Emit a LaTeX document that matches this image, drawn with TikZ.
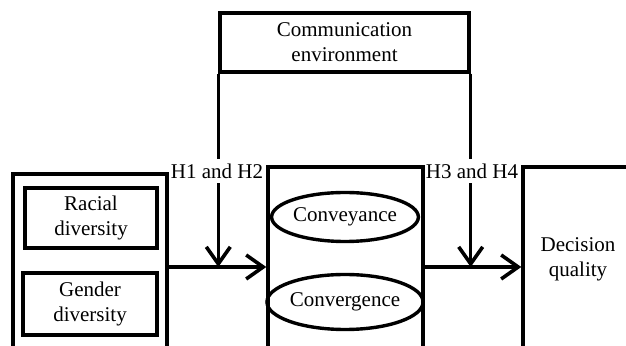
\documentclass[tikz,border=0pt]{standalone}
\usepackage{fontspec}
\setmainfont{Liberation Serif}
\usetikzlibrary{arrows.meta}
\usetikzlibrary{shapes.geometric}

\tikzset{
	box/.style={draw,line width=1.7pt,inner sep=0pt,align=center},
	oval/.style={draw,ellipse,line width=1.7pt,inner sep=0pt},
	txt/.style={align=center,inner sep=0pt},
	hyp/.style={inner xsep=1pt,inner ysep=2.2pt},
	arr/.style={line width=1.7pt,-{Straight Barb[length=8.5pt,width=12pt,line width=1.8pt]}}
}

\begin{document}
\begin{tikzpicture}[x=0.5pt,y=-0.5pt,font=\fontsize{10.5}{12.5}\selectfont]
	\useasboundingbox (0,0) rectangle (626,346);
	\clip (0,0) rectangle (626,346);
% moderator
	\node[box,minimum width=124.5pt,minimum height=29.5pt] (comm) at (344.5,42.5) {Communication\\environment};
% inputs
	\node[box,minimum width=77pt,minimum height=93pt] (inputs) at (90,267) {};
	\node[box,minimum width=66pt,minimum height=30pt] (racial) at (91,218) {Racial\\diversity};
	\node[box,minimum width=67pt,minimum height=31pt] (gender) at (90,304) {Gender\\diversity};
% process
	\node[box,minimum width=77.5pt,minimum height=100pt] (process) at (345.5,267) {};
	\node[oval,minimum width=72pt,minimum height=24.5pt] (conveyance) at (345,217) {Conveyance};
	\node[oval,minimum width=72pt,minimum height=27.5pt] (convergence) at (345,302) {Convergence};
% outcome
	\node[box,minimum width=55pt,minimum height=100pt] (outcome) at (578,267) {};
	\node[txt] (quality) at (578,259) {Decision\\quality};
% hypotheses
	\node[hyp] (h12) at (217,171) {H1 and H2};
	\node[hyp] (h34) at (472,171) {H3 and H4};
	\draw[line width=1.7pt] (comm.south west) -- (comm.south west |- h12.north);
	\draw[line width=1.7pt] (comm.south east) -- (comm.south east |- h34.north);
	\draw[arr] (h12.south -| comm.south west) -- (comm.south west |- inputs.east);
	\draw[arr] (h34.south -| comm.south east) -- (comm.south east |- process.east);
	\draw[arr] (inputs.east) -- (process.west);
	\draw[arr] (process.east) -- (outcome.west);
\end{tikzpicture}
\end{document}
